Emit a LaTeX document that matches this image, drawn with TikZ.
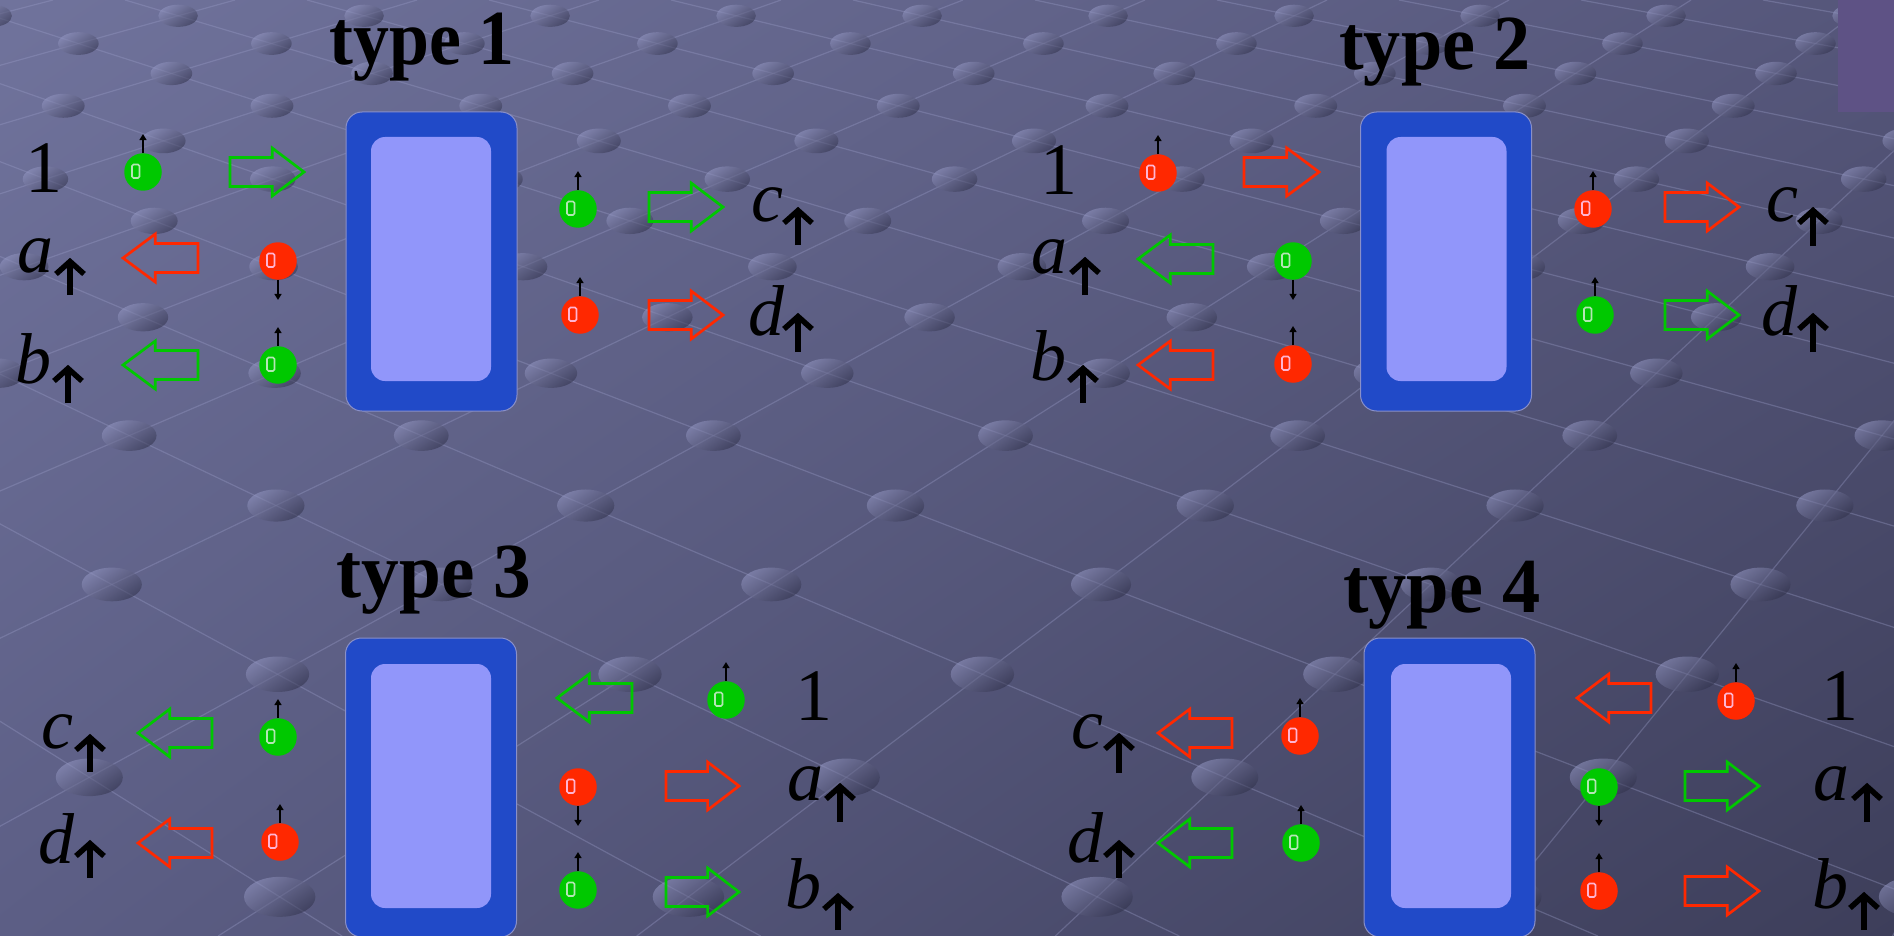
\documentclass[tikz,border=0pt]{standalone}
\usepackage{fontspec}
\usepackage{graphicx}
\setmainfont{Liberation Serif}
\usetikzlibrary{arrows.meta,calc,shadings}
\definecolor{gball}{HTML}{00C800}
\definecolor{rball}{HTML}{FF2800}
\definecolor{gballhl}{HTML}{B4E6B4}
\definecolor{rballhl}{HTML}{FFB4D2}
\definecolor{boxblue}{HTML}{214AC8}
\definecolor{boxin}{HTML}{9196FA}
\definecolor{boxedge}{HTML}{8A90C8}
\definecolor{bgUL}{HTML}{70739C}
\definecolor{bgUR}{HTML}{55567A}
\definecolor{bgLL}{HTML}{5C5E85}
\definecolor{bgLR}{HTML}{3D3E5A}
\definecolor{dotL}{HTML}{9598C4}
\definecolor{dotD}{HTML}{2E2F48}
\definecolor{gridc}{HTML}{9A9DC8}
\definecolor{cornerblock}{HTML}{5E5285}

\newcommand\spinball[6]{%
  \node[ball, fill=#4] (#1) at (#2,#3) {};
  \draw[hlmark, draw=#4hl] ([shift={(-11pt,7.5pt)}]#1.center) rectangle ([shift={(-3.5pt,-6pt)}]#1.center);
  \draw[spin] (#1.#5) -- ([yshift=#6pt]#1.#5);}
\newcommand\barr[4]{%
  \pgfmathsetmacro\hbx{#2+0.43*(#1-#2)}
  \draw[barrow, draw=#4] (#1,#3-14.5) -- (\hbx,#3-14.5) -- (\hbx,#3-24) -- (#2,#3) -- (\hbx,#3+24) -- (\hbx,#3+14.5) -- (#1,#3+14.5) -- cycle;}
\newcommand\spinlab[7]{%
  \node[letlab] (#1) at (#3,#4) {#2};
  \draw[uparr] (#5,#7) -- (#5,#6+4);
  \draw[uparr, line join=miter] (#5-14,#6+16) -- (#5,#6+3.5) -- (#5+14,#6+16);}

\begin{document}
\begin{tikzpicture}[x=1pt,y=-1pt,
  ball/.style={circle, minimum size=37.5pt, inner sep=0pt},
  hlmark/.style={line width=1.6pt, rounded corners=1.5pt},
  spin/.style={line width=1.4pt, -{Triangle[width=7pt,length=6pt]}},
  barrow/.style={line width=2.7pt, line join=miter},
  outerbox/.style={rectangle, rounded corners=16pt, fill=boxblue, draw=boxedge, line width=1pt, minimum width=171pt, minimum height=299pt, inner sep=0pt},
  innerbox/.style={rectangle, rounded corners=14pt, fill=boxin, minimum width=120pt, minimum height=244pt, inner sep=0pt},
  title/.style={font=\fontsize{78}{80}\selectfont\bfseries, anchor=base, inner sep=0pt},
  numlab/.style={font=\fontsize{74}{80}\selectfont, anchor=base, inner sep=0pt},
  letlab/.style={font=\fontsize{72}{80}\selectfont\itshape, anchor=base, inner sep=0pt},
  uparr/.style={line width=5.5pt},
  gridline/.style={draw=gridc, line width=1.2pt, opacity=0.35},
  dot/.style={top color=dotL, bottom color=dotD, shading angle=35, opacity=0.55}]
\useasboundingbox (0,0) rectangle (1894,936);
\begin{scope}
\clip (0,0) rectangle (1894,936);
\shade[upper left=bgUL, upper right=bgUR, lower left=bgLL, lower right=bgLR] (0,0) rectangle (1894,936);
\foreach \j in {-12,...,22}{
  \pgfmathsetmacro\gA{-785+182*\j}
  \draw[gridline] (\gA,0) -- ({\gA+(\gA+2296)*1.3},936);
}
\foreach \k in {-6,...,26}{
  \pgfmathsetmacro\gB{-675+182*\k}
  \draw[gridline] (\gB,0) -- ({\gB+(\gB-2824)*1.3},936);
}
\foreach \n in {0,...,16}{
  \foreach \j in {-12,...,22}{
    \pgfmathsetmacro\gD{110+182*\n}
    \pgfmathsetmacro\gT{\gD/(5120-\gD)}
    \pgfmathsetmacro\gA{-785+182*\j}
    \pgfmathsetmacro\gX{\gA+(\gA+2296)*\gT}
    \pgfmathsetmacro\gY{720*\gT}
    \pgfmathsetmacro\gR{19.5+13*\gT}
    \pgfmathsetmacro\gRy{0.56*\gR}
    \ifdim\gX pt>-80pt \ifdim\gX pt<1980pt \ifdim\gY pt<990pt
      \shade[dot] (\gX,\gY) ellipse [x radius=\gR pt, y radius=\gRy pt];
    \fi\fi\fi
  }
}
\end{scope}
\node[fill=cornerblock, minimum width=56pt, minimum height=112pt, inner sep=0pt, anchor=north west] (corner) at (1838,0) {};

% type 1
\node[title] (t1) at (422,65) {\scalebox{0.92}[1]{type 1}};
\node[outerbox] (box1) at (431.5,261.5) {};
\node[innerbox] (in1) at (431,259) {};
\node[numlab] (one1) at (43.5,193) {1};
\spinball{b11}{143}{172}{gball}{north}{19}
\barr{230}{304}{172}{gball}
\spinlab{a1}{a}{35}{272}{70}{258}{295}
\barr{198}{123}{258}{rball}
\spinball{b12}{278}{261}{rball}{south}{-20}
\spinlab{b1}{b}{33}{383}{68}{365}{403}
\barr{198}{123}{365}{gball}
\spinball{b13}{278}{365}{gball}{north}{19}
\spinball{b14}{578}{209}{gball}{north}{19}
\barr{649}{723}{207}{gball}
\spinlab{c1}{c}{767}{222}{798}{207}{245}
\spinball{b15}{580}{315}{rball}{north}{19}
\barr{649}{723}{315}{rball}
\spinlab{d1}{d}{766}{335}{798}{313}{352}

% type 2
\node[title] (t2) at (1435,70) {\scalebox{0.95}[1]{type 2}};
\node[outerbox] (box2) at (1446,261.5) {};
\node[innerbox] (in2) at (1446.5,259) {};
\node[numlab] (one2) at (1059,194) {1};
\spinball{b21}{1158}{173}{rball}{north}{19}
\barr{1244}{1319}{172}{rball}
\spinlab{a2}{a}{1049}{273}{1085}{257}{295}
\barr{1213}{1138}{259}{gball}
\spinball{b22}{1293}{261}{gball}{south}{-20}
\spinlab{b2}{b}{1048}{380}{1083}{365}{403}
\barr{1213}{1138}{365}{rball}
\spinball{b23}{1293}{364}{rball}{north}{19}
\spinball{b24}{1593}{209}{rball}{north}{19}
\barr{1665}{1739}{207}{rball}
\spinlab{c2}{c}{1782}{222}{1813}{207}{246}
\spinball{b25}{1595}{315}{gball}{north}{19}
\barr{1665}{1739}{315}{gball}
\spinlab{d2}{d}{1779}{335}{1813}{313}{352}

% type 3
\node[title] (t3) at (434,597) {\scalebox{0.965}[1]{type 3}};
\node[outerbox] (box3) at (431,787.5) {};
\node[innerbox] (in3) at (431,786) {};
\spinlab{c3}{c}{57}{748}{90}{734}{772}
\barr{212}{138}{733}{gball}
\spinball{b31}{278}{737}{gball}{north}{19}
\spinlab{d3}{d}{56}{863}{90}{840}{878}
\barr{212}{138}{843}{rball}
\spinball{b32}{280}{842}{rball}{north}{19}
\barr{632}{557}{698}{gball}
\spinball{b33}{726}{700}{gball}{north}{19}
\node[numlab] (one3) at (814,720) {1};
\spinball{b34}{578}{787}{rball}{south}{-20}
\barr{666}{739}{786}{rball}
\spinlab{a3}{a}{805}{800}{840}{783}{822}
\spinball{b35}{578}{890}{gball}{north}{19}
\barr{666}{739}{892}{gball}
\spinlab{b3}{b}{803}{908}{838}{893}{930}

% type 4
\node[title] (t4) at (1442,612) {\scalebox{0.98}[1]{type 4}};
\node[outerbox] (box4) at (1449.5,787.5) {};
\node[innerbox] (in4) at (1451,786) {};
\spinlab{c4}{c}{1087}{748}{1119}{733}{773}
\barr{1232}{1158}{733}{rball}
\spinball{b41}{1300}{736}{rball}{north}{19}
\spinlab{d4}{d}{1085}{862}{1119}{840}{878}
\barr{1232}{1158}{843}{gball}
\spinball{b42}{1301}{843}{gball}{north}{19}
\barr{1651}{1577}{698}{rball}
\spinball{b43}{1736}{701}{rball}{north}{19}
\node[numlab] (one4) at (1840,720) {1};
\spinball{b44}{1599}{787}{gball}{south}{-20}
\barr{1685}{1759}{786}{gball}
\spinlab{a4}{a}{1831}{800}{1867}{783}{822}
\spinball{b45}{1599}{891}{rball}{north}{19}
\barr{1685}{1759}{891}{rball}
\spinlab{b4}{b}{1830}{908}{1864}{892}{930}
\end{tikzpicture}
\end{document}
